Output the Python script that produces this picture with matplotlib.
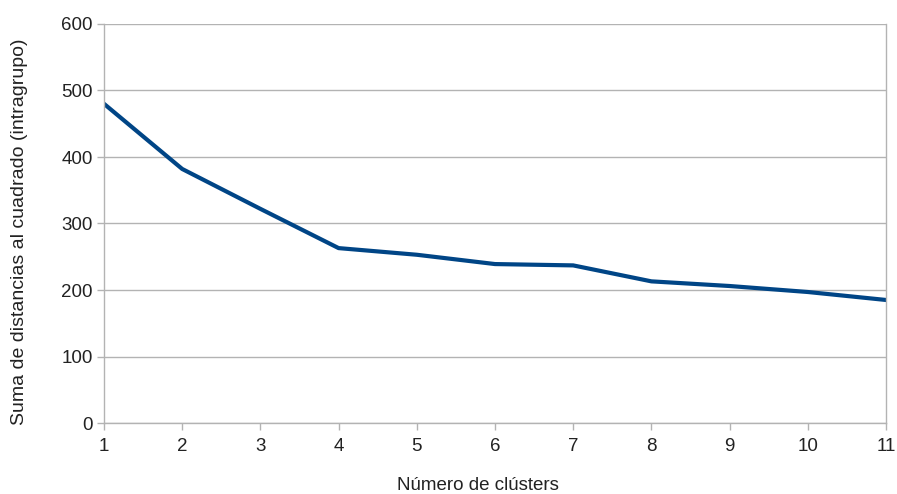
import matplotlib
matplotlib.use("Agg")
import matplotlib.pyplot as plt

plt.rcParams['font.family'] = ['Liberation Sans', 'DejaVu Sans']

clusters = [1, 2, 3, 4, 5, 6, 7, 8, 9, 10, 11]
inertia = [480, 382, 322, 263, 253, 239, 237, 213, 206, 197, 185]

GRID = '#b3b3b3'
LINE = '#004586'

fig = plt.figure(figsize=(8.97, 4.94), dpi=100)
ax = fig.add_axes([104 / 897, 1 - 423 / 494, (886 - 104) / 897, (423 - 24) / 494])

ax.plot(clusters, inertia, color=LINE, linewidth=3, solid_joinstyle='round')

ax.set_xlim(1, 11)
ax.set_ylim(0, 600)
ax.set_xticks(clusters)
ax.set_yticks(range(0, 601, 100))
ax.yaxis.grid(True, color=GRID, linewidth=1)
ax.set_axisbelow(True)

for s in ax.spines.values():
    s.set_color(GRID)
    s.set_linewidth(1)
ax.spines['top'].set_visible(False)

ax.tick_params(axis='both', colors=GRID, length=5, width=1, labelcolor='#222222',
               labelsize=13.5, direction='out')
ax.tick_params(axis='y', pad=3)
ax.tick_params(axis='x', pad=6)

ax.set_xlabel('Número de clústers', fontsize=13.5, color='#222222', va='center')
ax.xaxis.set_label_coords((478 - 104) / 782, -(485 - 423) / 399)
ax.set_ylabel('Suma de distancias al cuadrado (intragrupo)', fontsize=14,
              color='#222222', va='center')
ax.yaxis.set_label_coords(-(104 - 20) / 782, (423 - 232) / 399)

fig.savefig('out.png', dpi=100)
